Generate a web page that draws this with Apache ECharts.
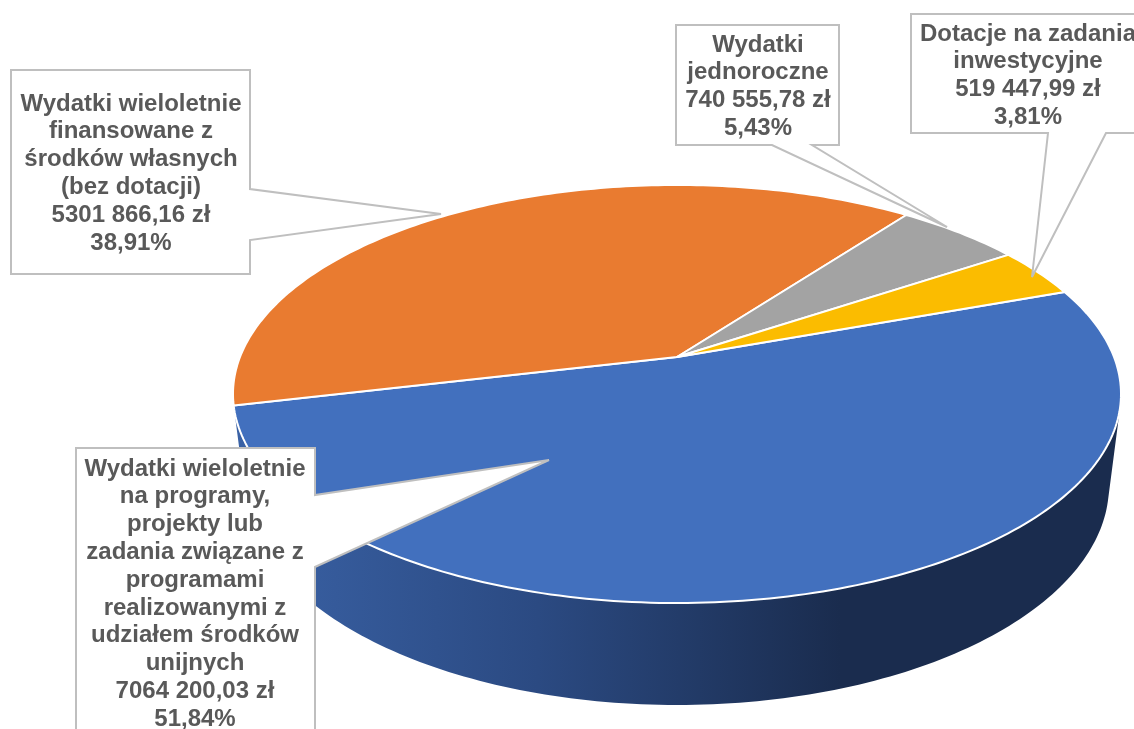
<!DOCTYPE html>
<html>

<head>
    <meta http-equiv="Content-Type" content="text/html; charset=utf-8" />
    <title></title>
    <script src="https://cdn.jsdelivr.net/npm/echarts@6/dist/echarts.min.js"></script>
    <style>
        html, body { margin: 0; padding: 0; background: #fff; }
    </style>
</head>

<body>
    <div id="main" style="width: 1134px;height:729px;"></div>
</body>
<script type="text/javascript">
    // data
    var categories = [
        'Wydatki wieloletnie\nna programy,\nprojekty lub\nzadania związane z\nprogramami\nrealizowanymi z\nudziałem środków\nunijnych',
        'Wydatki wieloletnie\nfinansowane z\nśrodków własnych\n(bez dotacji)',
        'Wydatki\njednoroczne',
        'Dotacje na zadania\ninwestycyjne'
    ];
    var sliceValues = [7064200.03, 5301866.16, 740555.78, 519447.99];
    var amountLabels = ['7064 200,03 zł', '5301 866,16 zł', '740 555,78 zł', '519 447,99 zł'];
    var percentLabels = ['51,84%', '38,91%', '5,43%', '3,81%'];

    // styles
    var sliceColors = ['#4270BE', '#E97B30', '#A3A3A3', '#FBBC00'];
    var calloutStroke = '#BFBFBF';
    var textColor = '#595959';

    // callout layout: box [x, y, w, h], pointer [base1, tip, base2], text centre x and first line y
    var calloutBoxes = [[76, 448, 239, 300], [11, 70, 239, 204], [676, 25, 163, 120], [911, 14, 240, 119]];
    var calloutPointers = [
        [[315, 495], [549, 460], [315, 567]],
        [[250, 189], [441, 214], [250, 240]],
        [[772, 145], [947, 227], [812, 145]],
        [[1048, 133], [1032, 277], [1106, 133]]
    ];
    var calloutText = [[195, 455], [131, 90], [758, 31], [1028, 20]];
    var lineHeight = 27.8;

    // tilted disc with perspective, fitted to the picture
    var cam = { cx: 677, cy: 357, k: 437, m: 202.5, c: 0.177, depthY: 93.3, depthW: 0.027 };
    var startAngle = -19.9;
    var wallFrom = 14, wallTo = 166;

    function project(deg, z) {
        var a = deg * Math.PI / 180;
        var u = Math.cos(a), v = Math.sin(a);
        var w = 1 - cam.c * v + cam.depthW * z;
        return [cam.cx + cam.k * u / w, cam.cy + (cam.m * v + cam.depthY * z) / w];
    }

    var total = sliceValues.reduce(function (a, b) { return a + b; }, 0);

    function rim(from, to, z) {
        var pts = [];
        var n = Math.max(2, Math.ceil(Math.abs(to - from)));
        for (var i = 0; i <= n; i++) {
            pts.push(project(from + (to - from) * i / n, z));
        }
        return pts;
    }

    var wallFill = new echarts.graphic.LinearGradient(235, 0, 840, 0, [
        { offset: 0, color: '#3A62A6' },
        { offset: 0.5, color: '#2B4A82' },
        { offset: 1, color: '#1A2C4E' }
    ], true);

    function renderSlice(params, api) {
        var idx = params.dataIndex;
        var before = 0;
        for (var i = 0; i < idx; i++) before += sliceValues[i];
        var from = startAngle + before / total * 360;
        var to = from + api.value(0) / total * 360;
        var children = [];
        var wFrom = Math.max(from, wallFrom), wTo = Math.min(to, wallTo);
        if (wTo > wFrom) {
            children.push({
                type: 'polygon',
                shape: { points: rim(wFrom, wTo, 0).concat(rim(wTo, wFrom, 1)) },
                style: { fill: wallFill }
            });
        }
        children.push({
            type: 'polygon',
            shape: { points: [[cam.cx, cam.cy]].concat(rim(from, to, 0)) },
            style: { fill: sliceColors[idx], stroke: '#fff', lineWidth: 2, lineJoin: 'round' }
        });
        return { type: 'group', children: children };
    }

    var calloutGraphics = [];
    categories.forEach(function (name, i) {
        var b = calloutBoxes[i], p = calloutPointers[i];
        var pts;
        if (p[0][0] === b[0] + b[2]) {
            // pointer leaves the right side
            pts = [[b[0], b[1]], [b[0] + b[2], b[1]], p[0], p[1], p[2], [b[0] + b[2], b[1] + b[3]], [b[0], b[1] + b[3]]];
        } else {
            // pointer leaves the bottom side
            pts = [[b[0], b[1]], [b[0] + b[2], b[1]], [b[0] + b[2], b[1] + b[3]], p[2], p[1], p[0], [b[0], b[1] + b[3]]];
        }
        calloutGraphics.push({
            type: 'polygon',
            z: 10,
            shape: { points: pts },
            style: { fill: '#fff', stroke: calloutStroke, lineWidth: 2, miterLimit: 4 }
        });
        calloutGraphics.push({
            type: 'text',
            z: 11,
            x: calloutText[i][0],
            y: calloutText[i][1],
            style: {
                text: name + '\n' + amountLabels[i] + '\n' + percentLabels[i],
                align: 'center',
                verticalAlign: 'top',
                fill: textColor,
                font: 'bold 24px "Liberation Sans", Arial, sans-serif',
                lineHeight: lineHeight
            }
        });
    });

    var myChart = echarts.init(document.getElementById('main'));
    var option = {
        animation: false,
        backgroundColor: '#fff',
        graphic: calloutGraphics,
        series: [
            {
                type: 'custom',
                coordinateSystem: 'none',
                silent: true,
                renderItem: renderSlice,
                data: sliceValues.map(function (v, i) {
                    return { name: categories[i], value: [v] };
                })
            }
        ]
    };
    myChart.setOption(option);
</script>

</html>
